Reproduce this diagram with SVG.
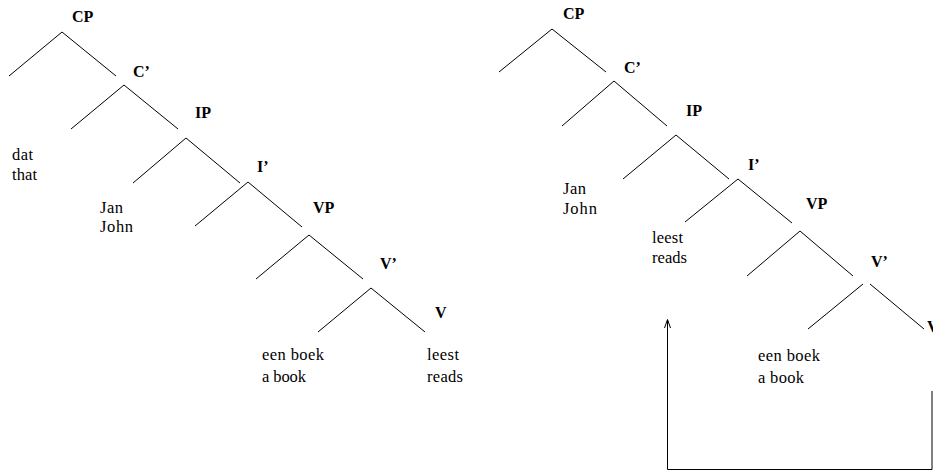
<svg xmlns="http://www.w3.org/2000/svg" width="933" height="473" viewBox="0 0 933 473">
<style>
.b{font-family:'Liberation Serif','Times New Roman','DejaVu Serif',serif;font-weight:bold;font-size:16px;fill:#000}
.t{font-family:'Liberation Serif','Times New Roman','DejaVu Serif',serif;font-size:16.5px;fill:#000}
.e{stroke:#000;stroke-width:1;fill:none}
</style>
<rect width="933" height="473" fill="#fff"/>
<g id="left-tree">
<g id="L-CP"><text class="b" x="72" y="22">CP</text></g>
<g id="L-C1"><text class="b" x="133" y="77">C’</text></g>
<g id="L-IP"><text class="b" x="195" y="118">IP</text></g>
<g id="L-I1"><text class="b" x="257" y="172">I’</text></g>
<g id="L-VP"><text class="b" x="313" y="213">VP</text></g>
<g id="L-V1"><text class="b" x="380" y="269">V’</text></g>
<g id="L-V"><text class="b" x="435" y="318">V</text></g>
<g id="L-dat"><text class="t" x="12" y="160" textLength="21">dat</text><text class="t" x="12" y="180" textLength="25">that</text></g>
<g id="L-Jan"><text class="t" x="100" y="213" textLength="23">Jan</text><text class="t" x="100" y="232" textLength="33">John</text></g>
<g id="L-boek"><text class="t" x="262" y="360" textLength="62">een boek</text><text class="t" x="262" y="382" textLength="44">a book</text></g>
<g id="L-leest"><text class="t" x="427" y="360" textLength="32">leest</text><text class="t" x="427" y="382" textLength="36">reads</text></g>
</g>
<g id="right-tree">
<g id="R-CP"><text class="b" x="563" y="19">CP</text></g>
<g id="R-C1"><text class="b" x="624" y="73">C’</text></g>
<g id="R-IP"><text class="b" x="686" y="116">IP</text></g>
<g id="R-I1"><text class="b" x="748" y="170">I’</text></g>
<g id="R-VP"><text class="b" x="806" y="209">VP</text></g>
<g id="R-V1"><text class="b" x="871" y="267">V’</text></g>
<g id="R-V"><text class="b" x="927" y="332">V</text></g>
<g id="R-Jan"><text class="t" x="563" y="194" textLength="23">Jan</text><text class="t" x="563" y="214" textLength="34">John</text></g>
<g id="R-leest"><text class="t" x="652" y="243" textLength="31">leest</text><text class="t" x="652" y="263" textLength="35">reads</text></g>
<g id="R-boek"><text class="t" x="758" y="361" textLength="62">een boek</text><text class="t" x="758" y="383" textLength="46">a book</text></g>
</g>
<g id="connectors">
<polyline class="e" points="9,76 62,32 116,76"/>
<polyline class="e" points="71,129 124,85 178,129"/>
<polyline class="e" points="133,183 186,138 240,183"/>
<polyline class="e" points="195,226 248,182 302,227"/>
<polyline class="e" points="256,279 309,235 363,279"/>
<polyline class="e" points="318,332 371,288 425,332"/>
<polyline class="e" points="499,72 552,29 606,72"/>
<polyline class="e" points="562,126 614,81 667,126"/>
<polyline class="e" points="623,179 676,135 729,179"/>
<polyline class="e" points="685,222 738,179 792,223"/>
<polyline class="e" points="747,276 800,231 853,276"/>
<line class="e" x1="863" y1="284" x2="808" y2="329"/>
<line class="e" x1="870" y1="284" x2="924" y2="329"/>
<polyline class="e" points="932,391 932,469.5 667.5,469.5 667.5,320"/>
<polyline class="e" points="664.5,328 667.5,319.5 670.5,328"/>
</g>
</svg>
